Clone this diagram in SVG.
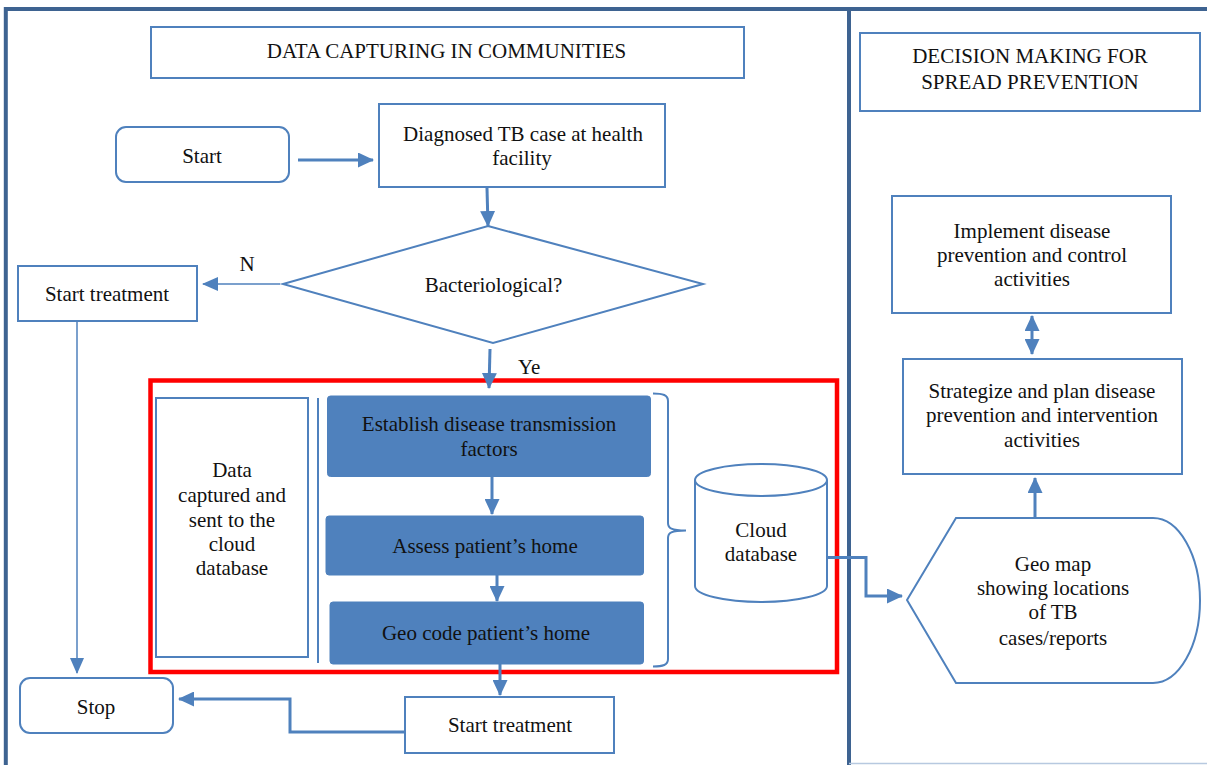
<svg xmlns="http://www.w3.org/2000/svg" width="1207" height="765" viewBox="0 0 1207 765">
<style>
.box{fill:#fff;stroke:#4f81bd;stroke-width:2}
.blue{fill:#4f81bd;stroke:#4f81bd;stroke-width:1}
.frame{fill:none;stroke:#3e6391;stroke-width:4}
.t{font-family:"Liberation Serif","Times New Roman",serif;font-size:21px;fill:#111;text-anchor:middle}
.c{fill:none;stroke:#4f81bd;stroke-width:3}
.thin{fill:none;stroke:#4f81bd;stroke-width:1.5}
</style>
<defs>
<marker id="ah" markerUnits="userSpaceOnUse" markerWidth="16" markerHeight="15" viewBox="0 0 16 15" refX="15" refY="7.5" orient="auto-start-reverse">
<path d="M0,0 L16,7.5 L0,15 z" fill="#4f81bd"/>
</marker>
<marker id="ahs" markerUnits="userSpaceOnUse" markerWidth="16" markerHeight="14" viewBox="0 0 16 14" refX="15" refY="7" orient="auto">
<path d="M0,0 L16,7 L0,14 z" fill="#4f81bd"/>
</marker>
</defs>
<rect width="1207" height="765" fill="#fff"/>
<g id="frame">
<path class="frame" d="M5.8,765 V9 H1207"/>
<path class="frame" d="M849,9 V765"/>
<path d="M849,763.5 H1207" stroke="#b7c9e0" stroke-width="1.5" fill="none"/>
</g>
<g id="title-left"><rect class="box" x="151" y="27" width="593" height="51"/><text class="t" x="446.5" y="58">DATA CAPTURING IN COMMUNITIES</text></g>
<g id="title-right"><rect class="box" x="860" y="33" width="340" height="78"/><text class="t" x="1030" y="63">DECISION MAKING FOR</text><text class="t" x="1030" y="89">SPREAD PREVENTION</text></g>
<g id="start"><rect class="box" x="116" y="127" width="173" height="55" rx="10"/><text class="t" x="202" y="163">Start</text></g>
<g id="diagnosed"><rect class="box" x="379" y="104" width="286" height="83"/><text class="t" x="523" y="141">Diagnosed TB case at health</text><text class="t" x="522" y="165">facility</text></g>
<g id="decision"><polygon points="488,226 703,284 493,343 283,284" fill="#fff" stroke="#4f81bd" stroke-width="2"/><text class="t" x="493.5" y="292">Bacteriological?</text></g>
<g id="start-treatment-left"><rect class="box" x="18" y="266" width="179" height="55"/><text class="t" x="107" y="301">Start treatment</text></g>
<g id="red-group"><rect x="150.5" y="380.5" width="686.5" height="291.5" fill="none" stroke="#ff0000" stroke-width="4.5"/></g>
<g id="data-captured"><rect class="box" x="156" y="398" width="152" height="259"/><text class="t" x="232" y="477">Data</text><text class="t" x="232" y="502">captured and</text><text class="t" x="232" y="527">sent to the</text><text class="t" x="232" y="551">cloud</text><text class="t" x="232" y="575">database</text></g>
<g id="separator"><path d="M318,398 V663" stroke="#4f81bd" stroke-width="2" fill="none"/></g>
<g id="establish"><rect class="blue" x="327.5" y="396" width="323" height="80.5" rx="3"/><text class="t" x="489" y="431">Establish disease transmission</text><text class="t" x="489" y="456">factors</text></g>
<g id="assess"><rect class="blue" x="326" y="516" width="317.5" height="59" rx="3"/><text class="t" x="485" y="553">Assess patient’s home</text></g>
<g id="geocode"><rect class="blue" x="330" y="602" width="313.5" height="62" rx="3"/><text class="t" x="486" y="640">Geo code patient’s home</text></g>
<g id="brace"><path d="M653,393.5 C663,393.5 668,395 668,401 V523 C668,528 671,530.5 686,530.5 C671,530.5 668,533 668,538 V659 C668,665 663,666.5 653,666.5" fill="none" stroke="#4f81bd" stroke-width="2"/></g>
<g id="cloud-db"><path d="M695,480 V586 A66,16 0 0 0 827,586 V480" fill="#fff" stroke="#4f81bd" stroke-width="2"/><ellipse cx="761" cy="480" rx="66" ry="16" fill="#fff" stroke="#4f81bd" stroke-width="2"/><text class="t" x="761" y="537">Cloud</text><text class="t" x="761" y="561">database</text></g>
<g id="implement"><rect class="box" x="892" y="196" width="279" height="117"/><text class="t" x="1032" y="238">Implement disease</text><text class="t" x="1032" y="262">prevention and control</text><text class="t" x="1032" y="286">activities</text></g>
<g id="strategize"><rect class="box" x="903" y="359" width="279" height="115"/><text class="t" x="1042" y="398">Strategize and plan disease</text><text class="t" x="1042" y="422">prevention and intervention</text><text class="t" x="1042" y="447">activities</text></g>
<g id="geomap"><path d="M907,600 L956,518 H1153 A47,82.5 0 0 1 1153,683 H956 Z" fill="#fff" stroke="#4f81bd" stroke-width="2"/><text class="t" x="1053" y="571">Geo map</text><text class="t" x="1053" y="595">showing locations</text><text class="t" x="1053" y="619">of TB</text><text class="t" x="1053" y="645">cases/reports</text></g>
<g id="stop"><rect class="box" x="20" y="678" width="153" height="55" rx="10"/><text class="t" x="96" y="714">Stop</text></g>
<g id="start-treatment-bottom"><rect class="box" x="405" y="697" width="209" height="56"/><text class="t" x="510" y="732">Start treatment</text></g>
<g id="connectors">
<path class="c" d="M298,160 H373" marker-end="url(#ah)"/>
<path class="c" d="M487,188 L488,226" marker-end="url(#ah)"/>
<path class="thin" d="M280,284 H203" marker-end="url(#ahs)"/>
<path class="c" d="M490,349 L489,388" marker-end="url(#ah)"/>
<path class="thin" stroke-width="2.5" d="M77,321 V673" marker-end="url(#ahs)"/>
<path class="c" d="M492,477 V514" marker-end="url(#ah)"/>
<path class="c" d="M497,575 V601" marker-end="url(#ah)"/>
<path class="c" d="M500,664 V695" marker-end="url(#ah)"/>
<path class="c" d="M405,732 H290 V699 H179" marker-end="url(#ah)"/>
<path class="c" d="M828,557.5 H866 V596 H902" marker-end="url(#ah)"/>
<path class="c" d="M1035,517 V478" marker-end="url(#ah)"/>
<path class="c" d="M1032,316 V354" marker-start="url(#ah)" marker-end="url(#ah)"/>
<text class="t" x="247" y="271">N</text>
<text class="t" x="518" y="374" style="text-anchor:start">Ye</text>
</g>
</svg>
